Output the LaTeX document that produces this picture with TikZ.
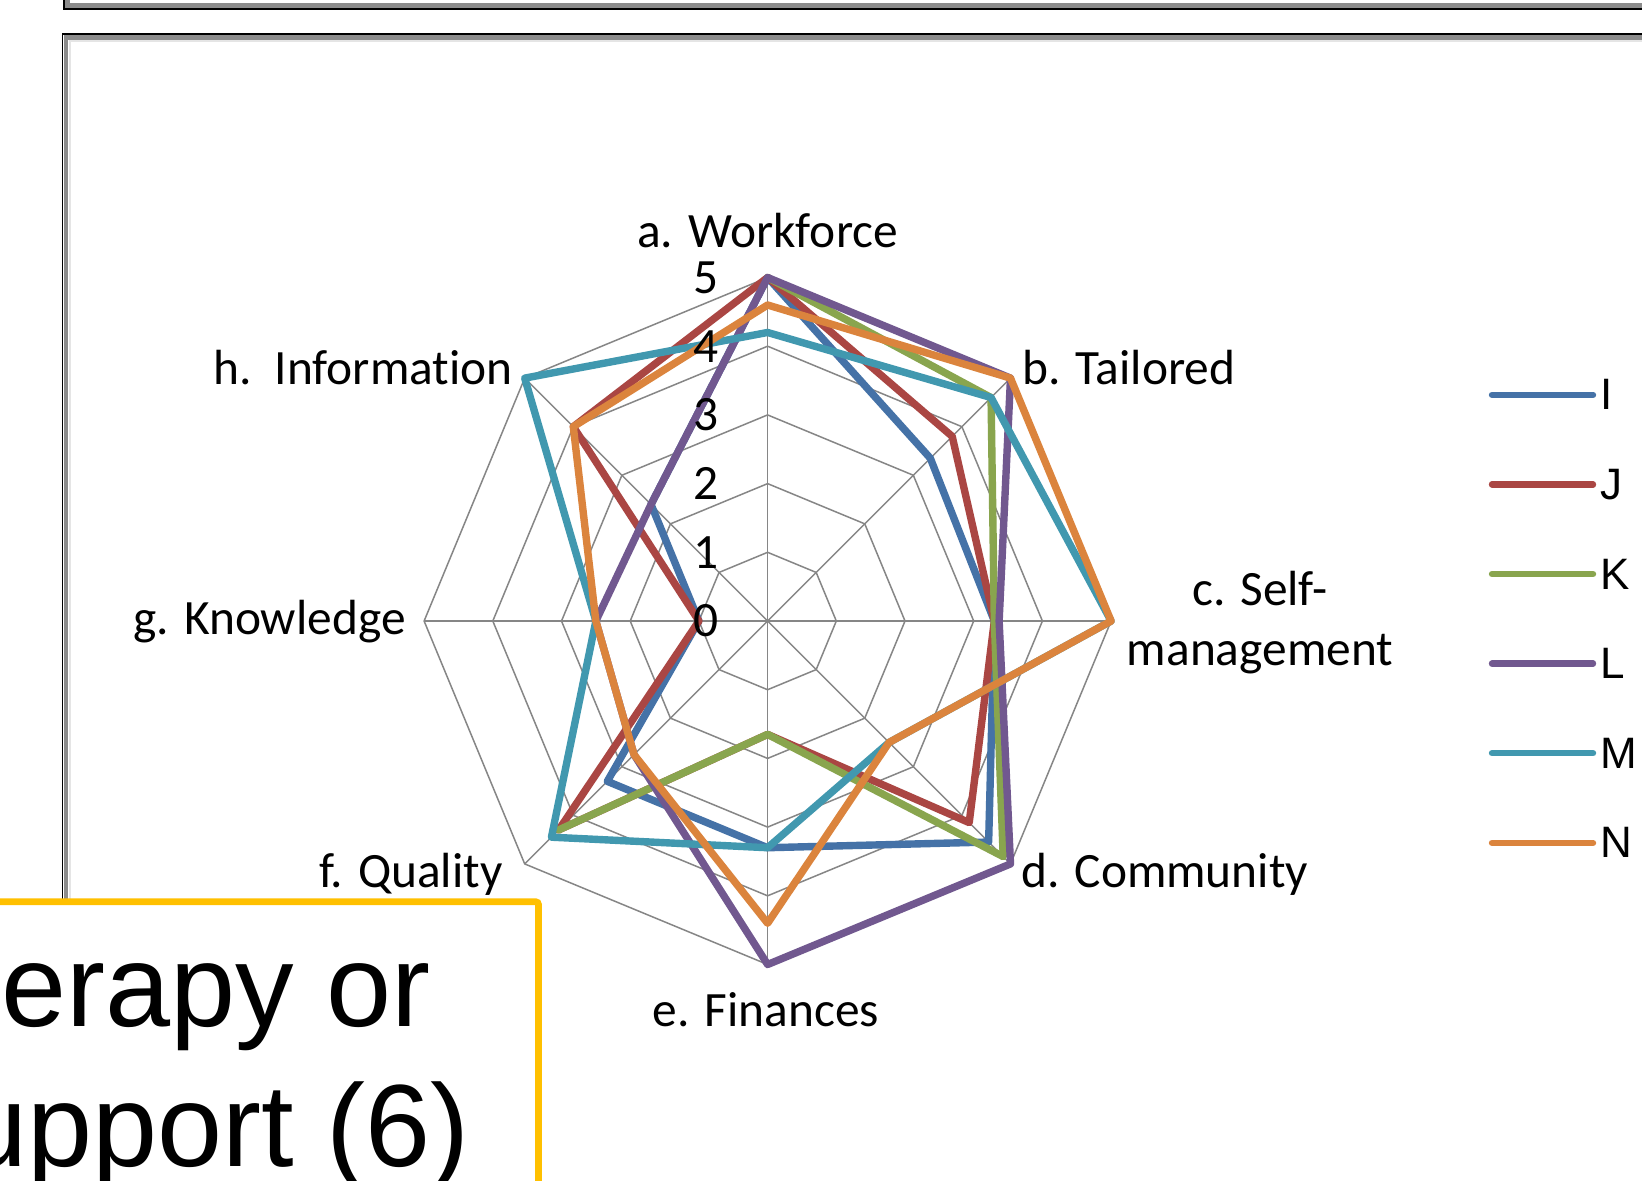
\documentclass[tikz,border=0pt]{standalone}
\usepackage{fontspec}
\setmainfont{Carlito}[Ligatures=NoCommon]
\newfontfamily\arialfont{Liberation Sans}
\usepackage{tikz}

\definecolor{colI}{RGB}{69,114,167}
\definecolor{colJ}{RGB}{170,70,67}
\definecolor{colK}{RGB}{137,165,78}
\definecolor{colL}{RGB}{113,88,143}
\definecolor{colM}{RGB}{65,152,175}
\definecolor{colN}{RGB}{219,132,61}
\definecolor{gridgray}{RGB}{134,134,134}
\definecolor{gold}{RGB}{255,192,0}

\newcommand{\unitR}{68.7}

\begin{document}
\begin{tikzpicture}[x=0.5pt, y=-0.5pt,
  lbl/.style={inner sep=0pt, font=\fontsize{24.7}{30}\selectfont},
  series/.style={line width=3.7pt, line join=round, line cap=round, draw=#1},
  key/.style={line width=3.2pt, line cap=round, draw=#1},
  keytext/.style={inner sep=0pt, anchor=west, font=\arialfont\fontsize{22}{26}\selectfont},
  bigtext/.style={inner sep=0pt, anchor=base west, font=\arialfont\fontsize{58.5}{70}\selectfont},
  web/.style={gridgray, line width=0.75pt}]

  \useasboundingbox (0,0) rectangle (1642,1180);
  \fill[white] (0,0) rectangle (1642,1180);

  \draw[gray!90, line width=2.5pt] (67.5,-20) rectangle (1700,5.5);
  \draw[black, line width=0.8pt] (64,-20) rectangle (1700,9);

  \draw[gray!20, line width=1pt] (69.5,40.5) rectangle (1700,1300);
  \draw[gray!90, line width=2.3pt] (66,37.3) rectangle (1700,1300);
  \draw[black, line width=0.8pt] (62.5,34) rectangle (1700,1300);

  \coordinate (O) at (767.6,621);
  \foreach \r in {1,...,5}
    \foreach \k in {0,...,7}
      \coordinate (G\r-\k) at ({767.6+\unitR*\r*cos(90-45*\k)},{621-\unitR*\r*sin(90-45*\k)});

  \foreach \r in {1,...,5}
    \draw[web] (G\r-0) \foreach \k in {1,...,7}{-- (G\r-\k)} -- cycle;
  \foreach \k in {0,...,7}
    \draw[web] (O) -- (G5-\k);

  \foreach \col/\n/\vals in {
      colI/8/{5,3.35,3.3,4.55,3.3,3.3,1,2.4,5},
      colJ/8/{5,3.8,3.3,4.15,1.65,4.3,1,4,5},
      colK/5/{5,4.6,3.3,4.85,1.65,4.3},
      colL/8/{5,5,3.37,5,5,2.75,2.5,2.4,5},
      colM/8/{4.2,4.6,5,2.5,3.3,4.45,2.5,5,4.2},
      colN/8/{4.6,5,5,2.5,4.4,2.75,2.5,4,4.6}} {
    \foreach \v [count=\k from 0] in \vals
      \coordinate (\col-\k) at ({767.6+\unitR*\v*cos(90-45*\k)},{621-\unitR*\v*sin(90-45*\k)});
    \draw[series=\col] (\col-0) \foreach \k in {1,...,\n}{-- (\col-\k)};
  }

  \foreach \t in {0,...,5}
    \node[lbl, anchor=east] (T\t) at (719,{621-\unitR*\t}) {\t};

  \node[lbl, anchor=base] (A) at (767.6,247) {a. Workforce};
  \node[lbl, anchor=base west] (B) at (1022,384) {b. Tailored};
  \node[lbl, align=center] (C) at (1260,623) {c. Self-\\management};
  \node[lbl, anchor=base west] (D) at (1021,887) {d. Community};
  \node[lbl, anchor=base] (E) at (766,1026) {e. Finances};
  \node[lbl, anchor=base east] (F) at (503,887) {f. Quality};
  \node[lbl, anchor=base east] (G) at (406,634) {g. Knowledge};
  \node[lbl, anchor=base east] (H) at (513,384) {h.\ \ Information};

  \foreach \col/\name [count=\i from 0] in {colI/I,colJ/J,colK/K,colL/L,colM/M,colN/N} {
    \node[keytext] (L\name) at (1600,{394.8+89.6*\i}) {\name};
    \draw[key=\col, shorten >=3.5pt] (1492,{394.8+89.6*\i}) -- (L\name.west);
  }

  \draw[gold, line width=3.4pt, fill=white, rounded corners=1.5pt] (-50,901.7) rectangle (538.5,1300);
  \node[bigtext] (X1) at (1,1026) {erapy or};
  \node[bigtext] (X2) at (-38,1166) {upport (6)};
\end{tikzpicture}
\end{document}
